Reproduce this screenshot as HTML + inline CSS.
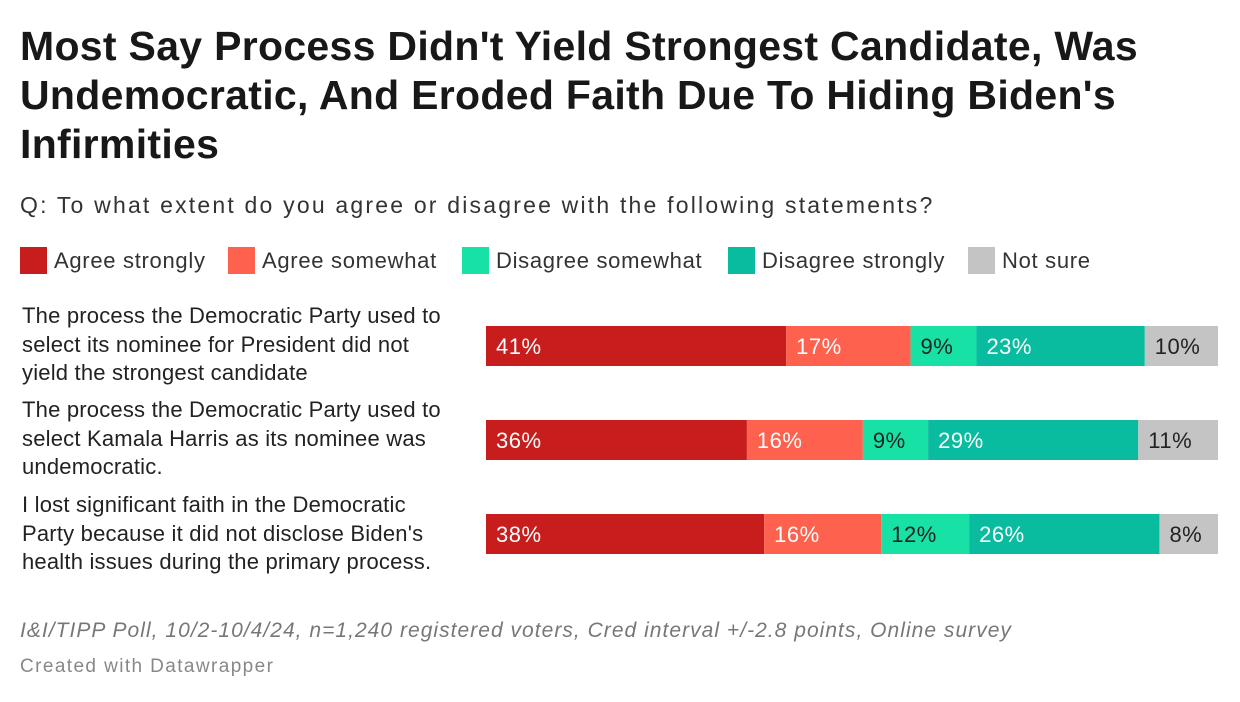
<!DOCTYPE html>
<html><head><meta charset="utf-8"><style>
body{margin:0;width:1240px;height:702px;background:#fff;font-family:"Liberation Sans",sans-serif;color:#181818;position:relative;overflow:hidden}
.t{position:absolute;left:20px;top:22px;font-size:41px;font-weight:bold;line-height:49px;width:1200px;letter-spacing:0.3px}
.sub{position:absolute;left:20px;top:192px;font-size:23px;letter-spacing:2.2px;color:#333;white-space:nowrap}
.leg{position:absolute;top:247px;font-size:22px;letter-spacing:0.7px;color:#333;display:flex;align-items:center;white-space:nowrap}
.leg i{display:inline-block;width:27px;height:27px;margin-right:7px}
.lab{position:absolute;left:22px;font-size:22px;letter-spacing:0.2px;line-height:28.5px;width:432px;color:#222}
.foot{position:absolute;left:20px;top:619px;font-size:21px;letter-spacing:1.03px;font-style:italic;color:#777;white-space:nowrap}
.cr{position:absolute;left:20px;top:656px;font-size:19px;letter-spacing:1.4px;color:#888}
</style></head><body>
<div class="t">Most Say Process Didn't Yield Strongest Candidate, Was Undemocratic, And Eroded Faith Due To Hiding Biden's Infirmities</div>
<div class="sub">Q: To what extent do you agree or disagree with the following statements?</div>
<div class="leg" style="left:20px"><i style="background:#c71e1d"></i>Agree strongly</div>
<div class="leg" style="left:228px"><i style="background:#fe614d"></i>Agree somewhat</div>
<div class="leg" style="left:462px"><i style="background:#18e1a6"></i>Disagree somewhat</div>
<div class="leg" style="left:728px"><i style="background:#09bb9f"></i>Disagree strongly</div>
<div class="leg" style="left:968px"><i style="background:#c4c4c4"></i>Not sure</div>
<div class="lab" style="top:302px">The process the Democratic Party used to select its nominee for President did not yield the strongest candidate</div>
<div class="lab" style="top:396px">The process the Democratic Party used to select Kamala Harris as its nominee was undemocratic.</div>
<div class="lab" style="top:491px">I lost significant faith in the Democratic Party because it did not disclose Biden's health issues during the primary process.</div>
<svg id="c" width="1240" height="702" style="position:absolute;left:0;top:0"></svg>
<div class="foot">I&amp;I/TIPP Poll, 10/2-10/4/24, n=1,240 registered voters, Cred interval +/-2.8 points, Online survey</div>
<div class="cr">Created with Datawrapper</div>
<script>
const agreeStrongly=[41,36,38];
const agreeSomewhat=[17,16,16];
const disagreeSomewhat=[9,9,12];
const disagreeStrongly=[23,29,26];
const notSure=[10,11,8];
const series=[agreeStrongly,agreeSomewhat,disagreeSomewhat,disagreeStrongly,notSure];
const names=['agree-strongly','agree-somewhat','disagree-somewhat','disagree-strongly','not-sure'];
const colors=['#c71e1d','#fe614d','#18e1a6','#09bb9f','#c4c4c4'];
const txt=['#fff','#fff','#222','#fff','#222'];
const x0=486,W=732,rowY=[326,420,514],bh=40;
const svg=document.getElementById('c');const NS='http://www.w3.org/2000/svg';
for(let r=0;r<3;r++){
  let tot=0;series.forEach(s=>tot+=s[r]);
  let acc=0;
  series.forEach((s,k)=>{
    const x=x0+acc/tot*W,w=s[r]/tot*W;acc+=s[r];
    const re=document.createElementNS(NS,'rect');
    re.setAttribute('x',x);re.setAttribute('y',rowY[r]);re.setAttribute('width',w);re.setAttribute('height',bh);re.setAttribute('fill',colors[k]);
    
    
    svg.appendChild(re);
    const t=document.createElementNS(NS,'text');
    t.setAttribute('x',x+10);t.setAttribute('y',rowY[r]+28);t.setAttribute('fill',txt[k]);
    t.setAttribute('font-size','22');t.setAttribute('letter-spacing','0.5');t.setAttribute('font-family','Liberation Sans, sans-serif');
    t.textContent=s[r]+'%';
    
    
    svg.appendChild(t);
  });
}
</script>
</body></html>
